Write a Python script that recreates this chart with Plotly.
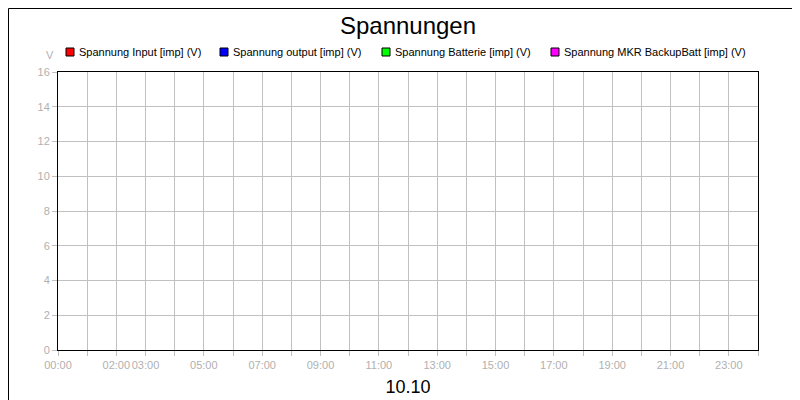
import plotly.graph_objects as go

series_names = ["Spannung Input [imp] (V)", "Spannung output [imp] (V)",
                "Spannung Batterie [imp] (V)", "Spannung MKR BackupBatt [imp] (V)"]
series_colors = ["#ff0000", "#0000ff", "#00ff00", "#ff00ff"]
legend_px = [62, 216, 378, 547]
hours = list(range(0, 25))
labeled = {0: "00:00", 2: "02:00", 3: "03:00", 5: "05:00", 7: "07:00", 9: "09:00",
           11: "11:00", 13: "13:00", 15: "15:00", 17: "17:00", 19: "19:00",
           21: "21:00", 23: "23:00"}
y_ticks = [0, 2, 4, 6, 8, 10, 12, 14, 16]

W, H = 800, 400
l, r, t, b = 50, 50, 64, 58
pw, ph = W - l - r, H - t - b

def px(x):
    return (x - l) / pw

def py(y):
    return (H - b - y) / ph

fig = go.Figure()
for n, c in zip(series_names, series_colors):
    fig.add_trace(go.Scatter(x=[None], y=[None], name=n, mode="markers",
                             marker=dict(color=c), showlegend=False))

annotations = [dict(text="V", xref="paper", yref="paper", x=px(42), y=py(47),
                    xanchor="center", yanchor="middle", showarrow=False,
                    font=dict(size=11, color="#b0b0b0"))]
shapes = [dict(type="rect", xref="paper", yref="paper",
               x0=px(0.5), x1=px(W - 0.5), y0=py(H - 0.5), y1=py(0.5),
               line=dict(color="black", width=1))]
for n, c, x in zip(series_names, series_colors, legend_px):
    shapes.append(dict(type="rect", xref="paper", yref="paper",
                       x0=px(x - 4), x1=px(x + 4), y0=py(48), y1=py(40),
                       fillcolor=c, line=dict(color="black", width=1)))
    annotations.append(dict(text=n, xref="paper", yref="paper", x=px(x + 7), y=py(44),
                            xanchor="left", yanchor="middle", showarrow=False,
                            font=dict(size=11, color="black")))

fig.update_layout(
    width=W, height=H, margin=dict(l=l, r=r, t=t, b=b, autoexpand=False),
    paper_bgcolor="white", plot_bgcolor="white",
    font=dict(family="Liberation Sans, Arial", size=11, color="black"),
    title=dict(text="Spannungen", x=0.5, xanchor="center", y=1 - 18 / H, yanchor="middle",
               font=dict(size=24, color="black")),
    showlegend=False,
    xaxis=dict(range=[0, 24], tickmode="array", tickvals=hours,
               ticktext=[labeled.get(h, "") for h in hours], tickangle=0,
               showgrid=True, gridcolor="#c0c0c0", gridwidth=1, automargin=False,
               ticks="outside", ticklen=5, tickcolor="#c0c0c0",
               tickfont=dict(color="#b0b0b0", size=11),
               showline=True, linecolor="black", linewidth=1, mirror=True, zeroline=False,
               title=dict(text="10.10", font=dict(size=18, color="black"), standoff=10)),
    yaxis=dict(range=[0, 16], tickvals=y_ticks, showgrid=True, gridcolor="#c0c0c0",
               ticks="outside", ticklen=5, tickcolor="#c0c0c0", automargin=False,
               tickfont=dict(color="#b0b0b0", size=11),
               showline=True, linecolor="black", linewidth=1, mirror=True, zeroline=False),
    annotations=annotations,
    shapes=shapes,
)
fig.write_html("out.html")
